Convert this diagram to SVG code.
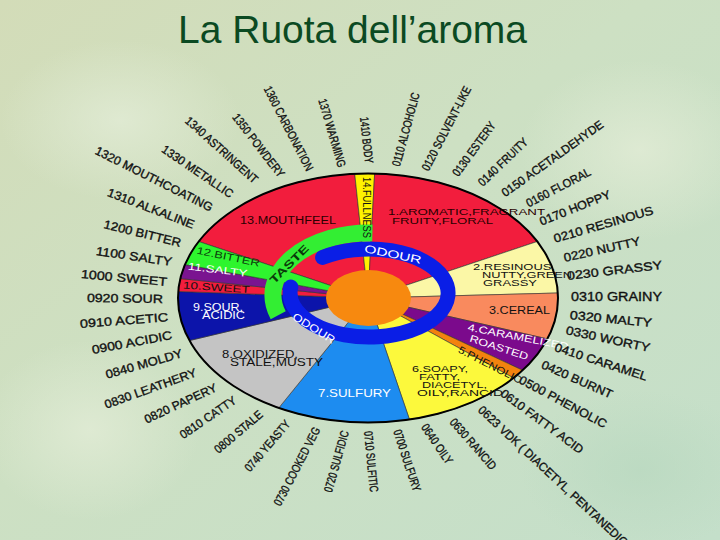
<svg xmlns="http://www.w3.org/2000/svg" width="720" height="540" viewBox="0 0 720 540">
<defs>
<linearGradient id="bg" x1="0" y1="0" x2="1" y2="1">
<stop offset="0" stop-color="#d3dcb8"/>
<stop offset="0.45" stop-color="#cde0c3"/>
<stop offset="1" stop-color="#c4dfca"/>
</linearGradient>
<radialGradient id="patch1" cx="0.5" cy="0.5" r="0.5">
<stop offset="0" stop-color="#e2ecd6" stop-opacity="0.8"/>
<stop offset="1" stop-color="#e2ecd6" stop-opacity="0"/>
</radialGradient>
<radialGradient id="patch2" cx="0.5" cy="0.5" r="0.5">
<stop offset="0" stop-color="#b8d8bf" stop-opacity="0.7"/>
<stop offset="1" stop-color="#b8d8bf" stop-opacity="0"/>
</radialGradient>
</defs>
<style>
text{font-family:"Liberation Sans",Arial,sans-serif;}
.lbl{font-size:12px;fill:#111;stroke:#111;stroke-width:0.35;dominant-baseline:central;}
.in{font-size:10px;fill:#111;dominant-baseline:central;}
.w{stroke:#333;stroke-width:0.6;vector-effect:non-scaling-stroke;}
</style>
<rect width="720" height="540" fill="url(#bg)"/>
<ellipse cx="640" cy="150" rx="120" ry="90" fill="url(#patch1)"/>
<ellipse cx="90" cy="430" rx="110" ry="90" fill="url(#patch1)"/>
<ellipse cx="640" cy="470" rx="120" ry="80" fill="url(#patch2)"/>
<ellipse cx="120" cy="120" rx="120" ry="80" fill="url(#patch1)"/>

<text x="178" y="43" font-size="39" fill="#0b4a22">La Ruota dell’aroma</text>

<g id="wheel">
<g transform="translate(368,298) scale(1,0.655)">
<g id="w13"><path class="w" fill="#f21d3d" d="M0,0 L-169.29,-86.26 A190,190 0 0 1 -13.26,-189.54 Z"/></g>
<g id="w14"><path class="w" fill="#fff200" d="M0,0 L-13.26,-189.54 A190,190 0 0 1 6.63,-189.88 Z"/></g>
<g id="w1"><path class="w" fill="#f21d3d" d="M0,0 L6.63,-189.88 A190,190 0 0 1 169.29,-86.26 Z"/></g>
<g id="w2"><path class="w" fill="#fbf7a6" d="M0,0 L169.29,-86.26 A190,190 0 0 1 189.85,-7.62 Z"/></g>
<g id="w3"><path class="w" fill="#f98a5e" d="M0,0 L189.85,-7.62 A190,190 0 0 1 179.44,62.49 Z"/></g>
<g id="w4"><path class="w" fill="#7b0a8c" d="M0,0 L179.44,62.49 A190,190 0 0 1 154.67,110.33 Z"/></g>
<g id="w5"><path class="w" fill="#f3820e" d="M0,0 L154.67,110.33 A190,190 0 0 1 145.55,122.13 Z"/></g>
<g id="w6"><path class="w" fill="#fcf93c" d="M0,0 L145.55,122.13 A190,190 0 0 1 41.44,185.43 Z"/></g>
<g id="w7"><path class="w" fill="#1d8cf0" d="M0,0 L41.44,185.43 A190,190 0 0 1 -89.20,167.76 Z"/></g>
<g id="w8"><path class="w" fill="#c4c4c4" d="M0,0 L-89.20,167.76 A190,190 0 0 1 -178.54,64.98 Z"/></g>
<g id="w9"><path class="w" fill="#0c14aa" d="M0,0 L-178.54,64.98 A190,190 0 0 1 -189.74,-9.94 Z"/></g>
<g id="w10"><path class="w" fill="#f21d3d" d="M0,0 L-189.74,-9.94 A190,190 0 0 1 -187.66,-29.72 Z"/></g>
<g id="w11"><path class="w" fill="#7a1490" d="M0,0 L-187.66,-29.72 A190,190 0 0 1 -183.01,-51.09 Z"/></g>
<g id="w12"><path class="w" fill="#2ef52e" d="M0,0 L-183.01,-51.09 A190,190 0 0 1 -169.29,-86.26 Z"/></g>
</g>
<ellipse cx="368" cy="298" rx="190" ry="124.5" fill="none" stroke="#000" stroke-width="2"/>
</g>

<g id="rings">
<path id="taste-arc" d="M372.4,233 A96,62 0 0 0 278.2,315.2" fill="none" stroke="#33ee33" stroke-width="17" stroke-linecap="butt"/>
<path id="odour-arc" d="M322.6,257.4 A79,44 0 1 1 290.8,286.9" fill="none" stroke="#0a1ee6" stroke-width="15" stroke-linecap="round"/>
<ellipse id="core" cx="368.5" cy="298" rx="42.5" ry="28" fill="#f7890f"/>
</g>

<g id="inner-labels">
<text class="in" x="240" y="220" textLength="96" lengthAdjust="spacingAndGlyphs" style="fill:#2a0000">13.MOUTHFEEL</text>
<text class="in" x="366" y="177" transform="rotate(90 366 177)" textLength="61" lengthAdjust="spacingAndGlyphs">14.FULLNESS</text>
<text class="in" x="388" y="211" textLength="157" lengthAdjust="spacingAndGlyphs" style="fill:#2a0000;font-size:9.5px">1.AROMATIC,FRAGRANT</text>
<text class="in" x="392" y="220" textLength="101" lengthAdjust="spacingAndGlyphs" style="fill:#2a0000;font-size:9.5px">FRUITY,FLORAL</text>
<text class="in" x="473" y="266" textLength="82" lengthAdjust="spacingAndGlyphs" style="font-size:9.5px">2.RESINOUS,</text>
<text class="in" x="482" y="274" textLength="90" lengthAdjust="spacingAndGlyphs" style="font-size:9.5px">NUTTY,GREEN</text>
<text class="in" x="483" y="282" textLength="54" lengthAdjust="spacingAndGlyphs" style="font-size:9.5px">GRASSY</text>
<text class="in" x="489" y="310" textLength="61" lengthAdjust="spacingAndGlyphs">3.CEREAL</text>
<text class="in" x="468" y="327" transform="rotate(11 468 327)" textLength="106" lengthAdjust="spacingAndGlyphs" style="fill:#fff">4.CARAMELIZED,</text>
<text class="in" x="470" y="338" transform="rotate(18 470 338)" textLength="61" lengthAdjust="spacingAndGlyphs" style="fill:#fff">ROASTED</text>
<text class="in" x="459" y="349" transform="rotate(27 459 349)" textLength="70" lengthAdjust="spacingAndGlyphs">5.PHENOLIC</text>
<text class="in" x="412" y="368" textLength="56" lengthAdjust="spacingAndGlyphs" style="font-size:9.5px">6.SOAPY,</text>
<text class="in" x="419" y="376" textLength="41" lengthAdjust="spacingAndGlyphs" style="font-size:9.5px">FATTY,</text>
<text class="in" x="422" y="384" textLength="65" lengthAdjust="spacingAndGlyphs" style="font-size:9.5px">DIACETYL,</text>
<text class="in" x="417" y="392" textLength="86" lengthAdjust="spacingAndGlyphs" style="font-size:9.5px">OILY,RANCID</text>
<text class="in" x="318" y="393" textLength="73" lengthAdjust="spacingAndGlyphs" style="fill:#fff;font-size:10.5px">7.SULFURY</text>
<text class="in" x="222" y="354" textLength="76" lengthAdjust="spacingAndGlyphs">8.OXIDIZED,</text>
<text class="in" x="230" y="362" textLength="93" lengthAdjust="spacingAndGlyphs">STALE,MUSTY</text>
<text class="in" x="193" y="307" textLength="50" lengthAdjust="spacingAndGlyphs" style="fill:#fff">9.SOUR,</text>
<text class="in" x="202" y="315" textLength="43" lengthAdjust="spacingAndGlyphs" style="fill:#fff">ACIDIC</text>
<text class="in" x="183" y="285" transform="rotate(4 183 285)" textLength="67" lengthAdjust="spacingAndGlyphs">10.SWEET</text>
<text class="in" x="188" y="266" transform="rotate(7 188 266)" textLength="60" lengthAdjust="spacingAndGlyphs" style="fill:#fff">11.SALTY</text>
<text class="in" x="197" y="250" transform="rotate(12 197 250)" textLength="64" lengthAdjust="spacingAndGlyphs" style="fill:#0b3b0b">12.BITTER</text>
<text class="in" x="289" y="264" transform="rotate(-45 289 264)" text-anchor="middle" textLength="50" lengthAdjust="spacingAndGlyphs" style="fill:#0a3a0a;font-size:11px;font-weight:bold">TASTE</text>
<text class="in" x="393" y="254" transform="rotate(12 393 254)" text-anchor="middle" textLength="58" lengthAdjust="spacingAndGlyphs" style="fill:#fff;font-size:11px">ODOUR</text>
<text class="in" x="314" y="328" transform="rotate(32 314 328)" text-anchor="middle" textLength="48" lengthAdjust="spacingAndGlyphs" style="fill:#fff;font-size:11px">ODOUR</text>
</g>

<g id="descriptors">
<text class="lbl" x="267" y="87" transform="rotate(62.6 267 87)" textLength="93.5" lengthAdjust="spacingAndGlyphs">1360 CARBONATION</text>
<text class="lbl" x="322" y="99" transform="rotate(73.6 322 99)" textLength="70.9" lengthAdjust="spacingAndGlyphs">1370 WARMING</text>
<text class="lbl" x="364" y="117" transform="rotate(83.8 364 117)" textLength="46.3" lengthAdjust="spacingAndGlyphs">1410 BODY</text>
<text class="lbl" x="235" y="115" transform="rotate(52.4 235 115)" textLength="77" lengthAdjust="spacingAndGlyphs">1350 POWDERY</text>
<text class="lbl" x="187" y="119" transform="rotate(41.9 187 119)" textLength="92.8" lengthAdjust="spacingAndGlyphs">1340 ASTRINGENT</text>
<text class="lbl" x="163" y="148" transform="rotate(34.3 163 148)" textLength="83.5" lengthAdjust="spacingAndGlyphs">1330 METALLIC</text>
<text class="lbl" x="96" y="150" transform="rotate(26.6 96 150)" textLength="129.7" lengthAdjust="spacingAndGlyphs">1320 MOUTHCOATING</text>
<text class="lbl" x="108" y="192" transform="rotate(21 108 192)" textLength="92.1" lengthAdjust="spacingAndGlyphs">1310 ALKALINE</text>
<text class="lbl" x="104" y="224" transform="rotate(13.9 104 224)" textLength="79.3" lengthAdjust="spacingAndGlyphs">1200 BITTER</text>
<text class="lbl" x="96" y="251" transform="rotate(8.2 96 251)" textLength="76.8" lengthAdjust="spacingAndGlyphs">1100 SALTY</text>
<text class="lbl" x="81" y="274" transform="rotate(5.3 81 274)" textLength="86.4" lengthAdjust="spacingAndGlyphs">1000 SWEET</text>
<text class="lbl" x="87" y="298" transform="rotate(0.8 87 298)" textLength="76" lengthAdjust="spacingAndGlyphs">0920 SOUR</text>
<text class="lbl" x="80" y="324" transform="rotate(-4.5 80 324)" textLength="88.3" lengthAdjust="spacingAndGlyphs">0910 ACETIC</text>
<text class="lbl" x="92" y="350" transform="rotate(-10.6 92 350)" textLength="81.4" lengthAdjust="spacingAndGlyphs">0900 ACIDIC</text>
<text class="lbl" x="106" y="375" transform="rotate(-16.1 106 375)" textLength="79.1" lengthAdjust="spacingAndGlyphs">0840 MOLDY</text>
<text class="lbl" x="105" y="405" transform="rotate(-19.9 105 405)" textLength="96.8" lengthAdjust="spacingAndGlyphs">0830 LEATHERY</text>
<text class="lbl" x="145" y="420" transform="rotate(-24.9 145 420)" textLength="78.3" lengthAdjust="spacingAndGlyphs">0820 PAPERY</text>
<text class="lbl" x="181" y="436" transform="rotate(-34.4 181 436)" textLength="65.5" lengthAdjust="spacingAndGlyphs">0810 CATTY</text>
<text class="lbl" x="216" y="451" transform="rotate(-40.2 216 451)" textLength="58.9" lengthAdjust="spacingAndGlyphs">0800 STALE</text>
<text class="lbl" x="247" y="470" transform="rotate(-49.5 247 470)" textLength="63.1" lengthAdjust="spacingAndGlyphs">0740 YEASTY</text>
<text class="lbl" x="277" y="505" transform="rotate(-62.5 277 505)" textLength="86.8" lengthAdjust="spacingAndGlyphs">0730 COOKED VEG</text>
<text class="lbl" x="328" y="492" transform="rotate(-74.4 328 492)" textLength="63.3" lengthAdjust="spacingAndGlyphs">0720 SULFIDIC</text>
<text class="lbl" x="368" y="431" transform="rotate(84.4 368 431)" textLength="61.3" lengthAdjust="spacingAndGlyphs">0710 SULFITIC</text>
<text class="lbl" x="397" y="430" transform="rotate(71.8 397 430)" textLength="64.2" lengthAdjust="spacingAndGlyphs">0700 SULFURY</text>
<text class="lbl" x="424" y="425" transform="rotate(55.6 424 425)" textLength="46" lengthAdjust="spacingAndGlyphs">0640 OILY</text>
<text class="lbl" x="452" y="420" transform="rotate(48.8 452 420)" textLength="63.8" lengthAdjust="spacingAndGlyphs">0630 RANCID</text>
<text class="lbl" x="480" y="408" transform="rotate(43 480 408)" textLength="200" lengthAdjust="spacingAndGlyphs">0623 VDK ( DIACETYL, PENTANEDIO</text>
<text class="lbl" x="502" y="392" transform="rotate(36.4 502 392)" textLength="99.4" lengthAdjust="spacingAndGlyphs">0610 FATTY ACID</text>
<text class="lbl" x="520" y="379" transform="rotate(28.1 520 379)" textLength="97.5" lengthAdjust="spacingAndGlyphs">0500 PHENOLIC</text>
<text class="lbl" x="542" y="364" transform="rotate(23.9 542 364)" textLength="76.6" lengthAdjust="spacingAndGlyphs">0420 BURNT</text>
<text class="lbl" x="555" y="347" transform="rotate(18.1 555 347)" textLength="96.8" lengthAdjust="spacingAndGlyphs">0410 CARAMEL</text>
<text class="lbl" x="566" y="330" transform="rotate(12.1 566 330)" textLength="85.9" lengthAdjust="spacingAndGlyphs">0330 WORTY</text>
<text class="lbl" x="570" y="315" transform="rotate(5.6 570 315)" textLength="82.4" lengthAdjust="spacingAndGlyphs">0320 MALTY</text>
<text class="lbl" x="571" y="297" textLength="91" lengthAdjust="spacingAndGlyphs">0310 GRAINY</text>
<text class="lbl" x="567" y="276" transform="rotate(-6.6 567 276)" textLength="95.6" lengthAdjust="spacingAndGlyphs">0230 GRASSY</text>
<text class="lbl" x="564" y="258" transform="rotate(-12.6 564 258)" textLength="77.9" lengthAdjust="spacingAndGlyphs">0220 NUTTY</text>
<text class="lbl" x="554" y="239" transform="rotate(-16.3 554 239)" textLength="103.2" lengthAdjust="spacingAndGlyphs">0210 RESINOUS</text>
<text class="lbl" x="540" y="222" transform="rotate(-21.8 540 222)" textLength="75.4" lengthAdjust="spacingAndGlyphs">0170 HOPPY</text>
<text class="lbl" x="527" y="204" transform="rotate(-27.6 527 204)" textLength="71.1" lengthAdjust="spacingAndGlyphs">0160 FLORAL</text>
<text class="lbl" x="503" y="194" transform="rotate(-35.6 503 194)" textLength="121.8" lengthAdjust="spacingAndGlyphs">0150 ACETALDEHYDE</text>
<text class="lbl" x="480" y="184" transform="rotate(-43.7 480 184)" textLength="63.7" lengthAdjust="spacingAndGlyphs">0140 FRUITY</text>
<text class="lbl" x="455" y="175" transform="rotate(-53.8 455 175)" textLength="64.4" lengthAdjust="spacingAndGlyphs">0130 ESTERY</text>
<text class="lbl" x="425" y="170" transform="rotate(-62.6 425 170)" textLength="93.5" lengthAdjust="spacingAndGlyphs">0120 SOLVENT-LIKE</text>
<text class="lbl" x="396" y="166" transform="rotate(-74.7 396 166)" textLength="75.7" lengthAdjust="spacingAndGlyphs">0110 ALCOHOLIC</text>
</g>
</svg>
